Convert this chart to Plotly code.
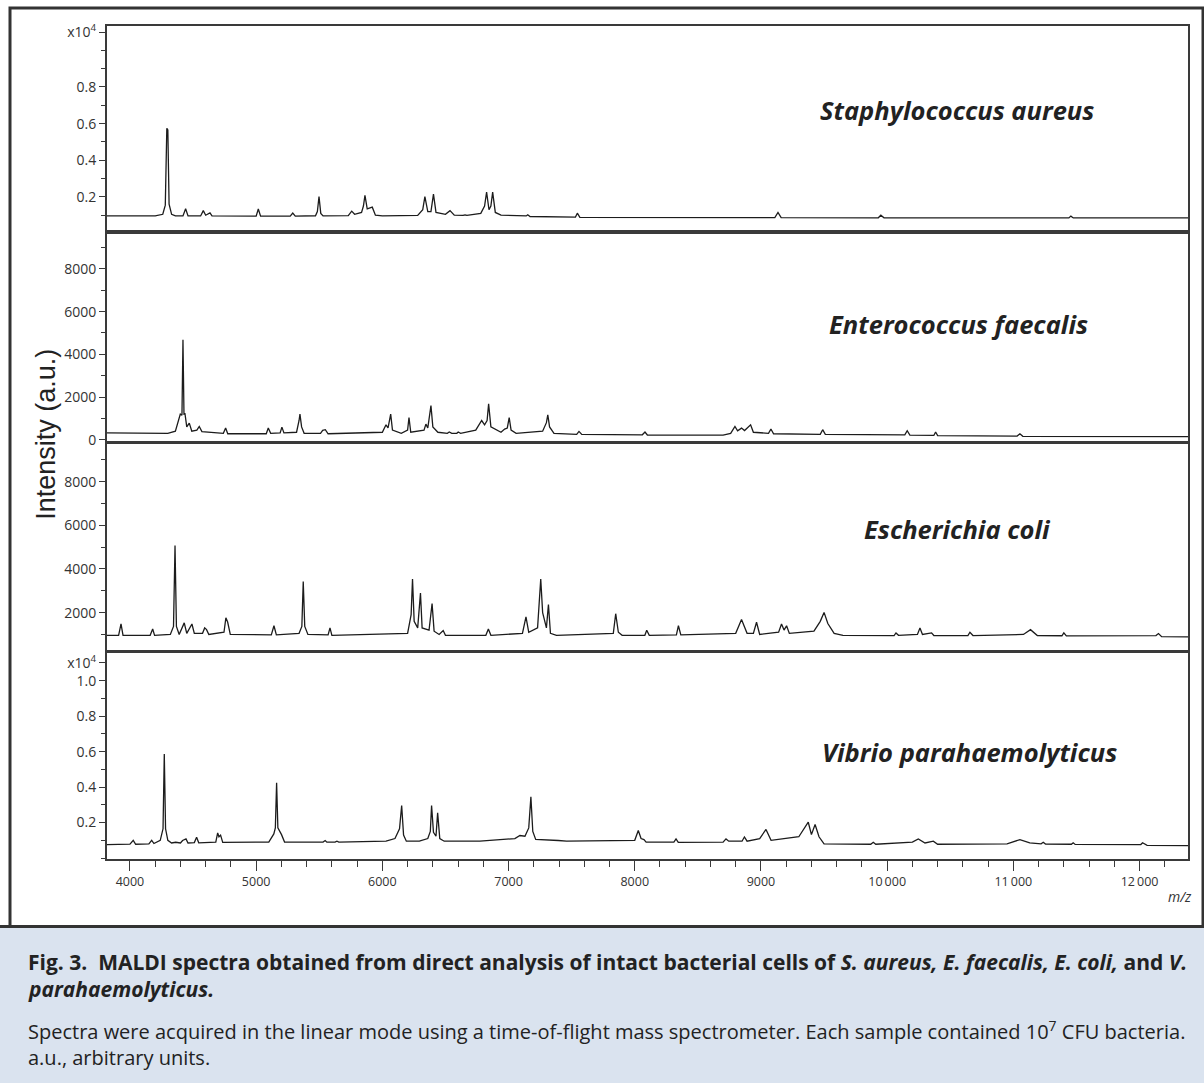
import plotly.graph_objects as go

# ---------------- data ----------------
sa_mz = [3818, 4200, 4260, 4280, 4292, 4300, 4310, 4330, 4360, 4420, 4441, 4460, 4560, 4581, 4600, 4634, 4650,
         5000, 5017, 5035, 5270, 5290, 5310, 5470, 5485, 5498, 5512, 5530, 5730, 5757, 5780, 5835, 5850, 5862,
         5880, 5920, 5945, 6000, 6280, 6320, 6337, 6360, 6385, 6405, 6425, 6500, 6536, 6570, 6640, 6655, 6670,
         6780, 6810, 6826, 6845, 6860, 6874, 6895, 6940, 7140, 7152, 7170, 7530, 7545, 7565, 9110, 9135, 9160,
         9930, 9950, 9975, 11440, 11456, 11475, 12384]
sa_int = [960, 960, 1050, 1550, 5750, 5650, 1600, 1050, 960, 960, 1350, 960, 960, 1250, 1000, 1130, 960,
          950, 1340, 950, 950, 1120, 950, 970, 1200, 2020, 1100, 960, 980, 1220, 1050, 1150, 1500, 2080,
          1350, 1440, 1000, 960, 990, 1300, 2020, 1200, 1200, 2150, 1150, 1050, 1250, 1000, 990, 1020, 990,
          1100, 1500, 2260, 1300, 1500, 2260, 1150, 1000, 960, 1020, 930, 900, 1110, 880, 870, 1150, 870,
          860, 1000, 860, 850, 950, 850, 850]

ef_mz = [3818, 4000, 4300, 4360, 4385, 4399, 4412, 4420, 4428, 4436, 4450, 4470, 4490, 4530, 4549, 4570, 4740,
         4758, 4775, 5080, 5096, 5115, 5190, 5204, 5220, 5320, 5340, 5347, 5360, 5380, 5510, 5527, 5548, 5570,
         6000, 6029, 6045, 6066, 6080, 6150, 6200, 6211, 6225, 6330, 6345, 6360, 6385, 6400, 6440, 6515, 6530,
         6550, 6590, 6601, 6620, 6740, 6787, 6810, 6830, 6842, 6860, 6940, 6969, 6990, 7005, 7020, 7060, 7270,
         7300, 7311, 7325, 7360, 7540, 7558, 7580, 8060, 8081, 8100, 8700, 8760, 8794, 8815, 8846, 8870, 8918,
         8940, 9060, 9079, 9100, 9470, 9489, 9510, 10140, 10159, 10180, 10370, 10384, 10400, 11030, 11052, 11075,
         12384]
ef_int = [320, 300, 300, 400, 1000, 1200, 1150, 4680, 1200, 1215, 600, 780, 400, 450, 620, 380, 300,
          545, 280, 280, 545, 300, 320, 590, 320, 350, 900, 1200, 600, 300, 300, 440, 470, 280,
          350, 700, 550, 1200, 450, 300, 450, 1040, 350, 450, 730, 550, 1600, 600, 350, 300, 360,
          300, 300, 360, 300, 450, 900, 700, 900, 1680, 600, 350, 500, 550, 1040, 450, 300, 400,
          800, 1170, 600, 300, 250, 390, 250, 230, 360, 220, 220, 300, 620, 420, 545, 430, 700,
          350, 300, 500, 280, 250, 470, 250, 230, 420, 220, 200, 360, 190, 170, 280, 160,
          150]

ec_mz = [3818, 3910, 3929, 3945, 4160, 4180, 4195, 4320, 4345, 4357, 4368, 4390, 4430, 4450, 4491, 4510, 4575,
         4592, 4607, 4625, 4745, 4760, 4774, 4795, 5120, 5141, 5160, 5340, 5362, 5373, 5385, 5410, 5570, 5585,
         5600, 6200, 6228, 6239, 6252, 6280, 6302, 6315, 6370, 6394, 6410, 6450, 6482, 6500, 6820, 6840, 6860,
         7110, 7138, 7160, 7230, 7245, 7255, 7270, 7300, 7316, 7332, 7380, 7830, 7849, 7870, 7900, 8080, 8095,
         8115, 8330, 8346, 8365, 8800, 8846, 8890, 8940, 8965, 8990, 9140, 9163, 9183, 9203, 9225, 9420, 9470,
         9500, 9530, 9580, 9650, 10055, 10070, 10090, 10240, 10260, 10280, 10352, 10370, 10640, 10656, 10680,
         11080, 11136, 11190, 11385, 11400, 11420, 12130, 12150, 12175, 12384]
ec_int = [960, 960, 1480, 960, 960, 1250, 960, 1000, 1370, 5080, 1370, 1000, 1530, 1050, 1480, 1050, 1050,
          1300, 1220, 1000, 1100, 1760, 1570, 1000, 980, 1400, 980, 1050, 1370, 3430, 1370, 1000, 980, 1300,
          960, 1050, 1910, 3540, 1600, 1300, 2900, 1300, 1200, 2410, 1150, 1000, 1180, 960, 960, 1250, 960,
          1050, 1800, 1100, 1300, 2600, 3540, 2000, 1300, 2370, 1050, 960, 1050, 1950, 1100, 960, 960, 1190,
          960, 980, 1400, 980, 1050, 1680, 1050, 1050, 1560, 1000, 1100, 1480, 1200, 1400, 1050, 1150, 1600,
          2010, 1500, 1050, 960, 950, 1070, 960, 1000, 1300, 1000, 1070, 950, 950, 1100, 950,
          1000, 1220, 950, 940, 1070, 930, 950, 1040, 900, 890]

vp_mz = [3818, 4000, 4026, 4045, 4150, 4172, 4190, 4240, 4262, 4272, 4282, 4300, 4330, 4362, 4400, 4417, 4444,
         4460, 4510, 4528, 4545, 4680, 4695, 4705, 4718, 4735, 5100, 5140, 5152, 5162, 5172, 5201, 5225, 5530,
         5547, 5560, 5625, 5640, 5655, 6029, 6100, 6136, 6153, 6168, 6190, 6293, 6360, 6380, 6390, 6405, 6425,
         6438, 6455, 6490, 6773, 7050, 7090, 7130, 7160, 7177, 7192, 7215, 7394, 7460, 8000, 8028, 8050, 8073,
         8090, 8310, 8327, 8345, 8700, 8723, 8745, 8850, 8869, 8890, 8990, 9040, 9080, 9300, 9375, 9400, 9429,
         9460, 9500, 9870, 9890, 9910, 10200, 10247, 10300, 10366, 10400, 10950, 11052, 11130, 11220, 11237,
         11255, 11460, 11474, 11490, 12010, 12024, 12060, 12384]
vp_int = [760, 780, 1000, 780, 800, 1000, 820, 1000, 1650, 5870, 1650, 1000, 850, 890, 850, 990, 1080,
          850, 870, 1170, 860, 900, 1420, 1200, 1290, 880, 900, 1360, 1700, 4240, 1700, 1320, 900, 900,
          990, 900, 900, 950, 900, 950, 1100, 1650, 2960, 1300, 950, 950, 1100, 1500, 2960, 1450, 1230,
          2550, 1100, 950, 950, 1100, 1270, 1230, 1700, 3450, 1500, 1050, 990, 950, 1000, 1550, 1100, 1040,
          900, 900, 1080, 880, 900, 1080, 950, 950, 1190, 950, 1100, 1610, 1000, 1200, 2020, 1320, 1890,
          1200, 800, 780, 890, 780, 900, 1080, 850, 950, 780, 800, 1040, 850, 800, 890,
          790, 780, 860, 770, 760, 860, 720, 700]

species = ["Staphylococcus aureus", "Enterococcus faecalis", "Escherichia coli", "Vibrio parahaemolyticus"]

x_tickvals = [4000, 5000, 6000, 7000, 8000, 9000, 10000, 11000, 12000]
x_ticktext = ["4000", "5000", "6000", "7000", "8000", "9000", "10\u2009000", "11\u2009000", "12\u2009000"]

y1_tickvals = [2000, 4000, 6000, 8000, 11000]
y1_ticktext = ["0.2", "0.4", "0.6", "0.8", "x10<sup>4</sup>"]
y2_tickvals = [0, 2000, 4000, 6000, 8000]
y2_ticktext = ["0", "2000", "4000", "6000", "8000"]
y3_tickvals = [2000, 4000, 6000, 8000]
y3_ticktext = ["2000", "4000", "6000", "8000"]
y4_tickvals = [2000, 4000, 6000, 8000, 10000, 11000]
y4_ticktext = ["0.2", "0.4", "0.6", "0.8", "1.0", "x10<sup>4</sup>"]

# ---------------- figure ----------------
W, H = 1204, 1083
def px_x(p): return p / W
def px_y(p):
    # vertical pixel of the reference -> paper fraction (small correction for the capture)
    q = (p - 5) / 0.9886
    return 1 - q / H

LINE = "#1c1c1c"
AX = "#3a3a3a"
FONT = "Open Sans, Lato, sans-serif"
TICKFONT = dict(family=FONT, size=14, color="#333333")
XR = [3818, 12384]

fig = go.Figure()
series = [(sa_mz, sa_int), (ef_mz, ef_int), (ec_mz, ec_int), (vp_mz, vp_int)]
for i, (mz, it) in enumerate(series):
    sfx = "" if i == 0 else str(i + 1)
    fig.add_trace(go.Scatter(x=mz, y=it, mode="lines", xaxis="x" + sfx, yaxis="y" + sfx,
                             line=dict(color=LINE, width=1.3), name=species[i], hoverinfo="skip"))

panels = [(26, 230, [200, 11330], y1_tickvals, y1_ticktext),
          (234, 441, [-47, 9640], y2_tickvals, y2_ticktext),
          (444, 650, [305, 9740], y3_tickvals, y3_ticktext),
          (653, 860, [-80, 11580], y4_tickvals, y4_ticktext)]

layout = dict(width=W, height=H, margin=dict(l=0, r=0, t=0, b=0),
              paper_bgcolor="white", plot_bgcolor="white", showlegend=False)
xdom = [px_x(107), px_x(1188)]
for i, (top, bot, yr, tv, tt) in enumerate(panels):
    sfx = "" if i == 0 else str(i + 1)
    last = (i == 3)
    xa = dict(domain=xdom, range=XR, anchor="y" + sfx, showline=True, mirror=True,
              linecolor=AX, linewidth=2, showgrid=False, zeroline=False,
              showticklabels=last, ticks="outside" if last else "",
              ticklen=10, tickwidth=1.2, tickcolor=AX,
              tickfont=dict(family=FONT, size=12.5, color="#333333"))
    if last:
        xa["tickvals"] = x_tickvals
        xa["ticktext"] = x_ticktext
        xa["minor"] = dict(dtick=200, tick0=4000, ticks="outside", ticklen=6, tickwidth=1.2, tickcolor=AX)
    ya = dict(domain=[px_y(bot), px_y(top)], range=yr, anchor="x" + sfx, showline=True, mirror=True,
              linecolor=AX, linewidth=2, showgrid=False, zeroline=False,
              tickvals=tv, ticktext=tt, ticks="outside", ticklen=6, tickwidth=1.2, tickcolor=AX,
              tickfont=TICKFONT,
              minor=dict(dtick=1000, tick0=0, ticks="outside", ticklen=4, tickwidth=1.2, tickcolor=AX))
    layout["xaxis" + sfx] = xa
    layout["yaxis" + sfx] = ya
fig.update_layout(**layout)

# species titles
title_pos = [(957, 110), (958, 324), (957, 529), (969, 752)]
for name, (cx, cy) in zip(species, title_pos):
    fig.add_annotation(x=px_x(cx), y=px_y(cy), xref="paper", yref="paper", showarrow=False,
                       xanchor="center", yanchor="middle",
                       text="<b><i>" + name + "</i></b>",
                       font=dict(family=FONT, size=25.5, color="#222222"))

# y title
fig.add_annotation(x=px_x(46), y=px_y(435), xref="paper", yref="paper", showarrow=False,
                   xanchor="center", yanchor="middle",
                   text="Intensity (a.u.)", textangle=-90,
                   font=dict(family="Liberation Sans, Arial, sans-serif", size=27, color="#222222"))
# m/z
fig.add_annotation(x=px_x(1194), y=px_y(897), xref="paper", yref="paper", showarrow=False,
                   xanchor="right", yanchor="middle", text="<i>m/z</i>",
                   font=dict(family=FONT, size=14, color="#333333"))

# caption
cap_font_b = dict(family=FONT, size=21, color="#222222")
cap_font = dict(family=FONT, size=20, color="#222222")
cap_lines = [
    ("<b>Fig. 3.\u00a0 MALDI spectra obtained from direct analysis of intact bacterial cells of "
     "<i>S. aureus, E. faecalis, E. coli,</i> and <i>V.</i></b>", 963, cap_font_b),
    ("<b><i>parahaemolyticus.</i></b>", 990, cap_font_b),
    ("Spectra were acquired in the linear mode using a time-of-flight mass spectrometer. "
     "Each sample contained 10<sup>7</sup> CFU bacteria.", 1031, cap_font),
    ("a.u., arbitrary units.", 1058, cap_font),
]
for txt, cy, f in cap_lines:
    fig.add_annotation(x=px_x(26), y=px_y(cy), xref="paper", yref="paper", showarrow=False,
                       xanchor="left", yanchor="middle", text=txt, font=f)

# caption background and frame
fig.add_shape(type="rect", xref="paper", yref="paper", x0=0, x1=1, y0=-0.05, y1=px_y(927),
              fillcolor="#dae3ef", line=dict(width=0), layer="below")
fig.add_shape(type="rect", xref="paper", yref="paper", x0=px_x(10), x1=px_x(1203),
              y0=px_y(927), y1=px_y(8), line=dict(color="#333333", width=3))
fig.add_shape(type="line", xref="paper", yref="paper", x0=0, x1=1, y0=px_y(927), y1=px_y(927),
              line=dict(color="#333333", width=3))

fig.write_html("out.html", config={"displayModeBar": False},
               post_script="document.body.style.margin='0';document.body.style.overflow='hidden';")
